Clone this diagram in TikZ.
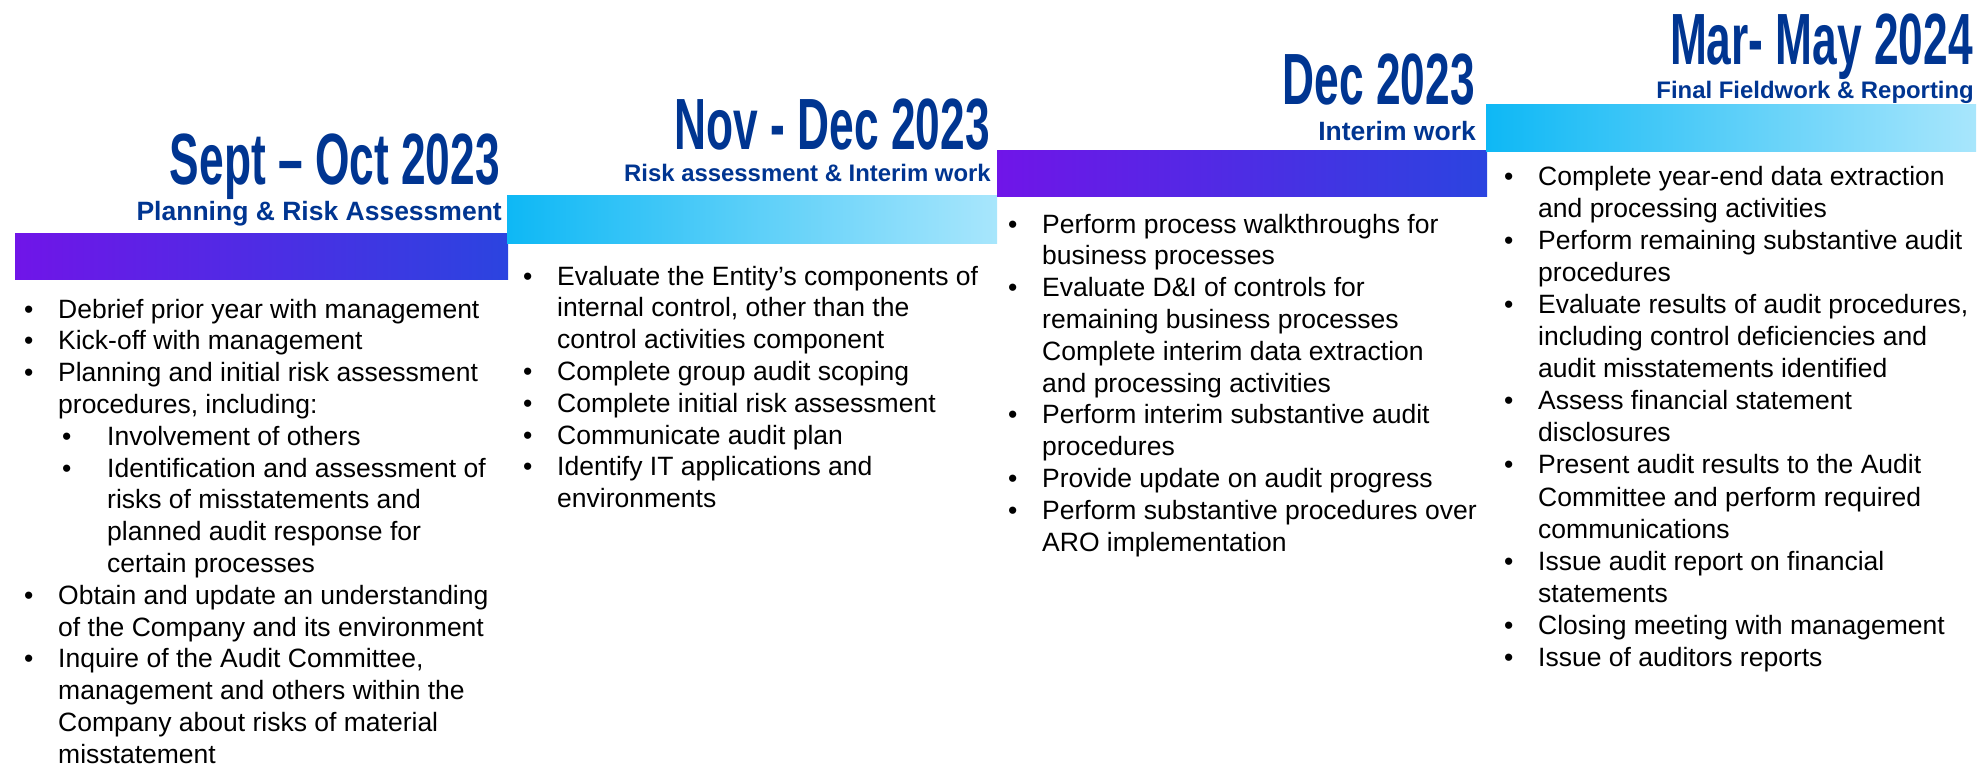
\documentclass[tikz,border=0pt]{standalone}
\usepackage{fontspec}
\setmainfont{Liberation Sans}
\newfontfamily\condfont{Liberation Sans}[FakeStretch=0.61]
\definecolor{tblue}{RGB}{0,53,145}
\definecolor{cpurple}{RGB}{112,21,232}
\definecolor{cblue}{RGB}{43,68,224}
\definecolor{ccyan}{RGB}{14,184,245}
\definecolor{clight}{RGB}{168,230,252}
\newcommand\bl{\makebox[34pt][l]{\textbullet}}
\newcommand\ind{\hspace*{34pt}}
\newcommand\sbl{\hspace*{38pt}\makebox[45pt][l]{\textbullet}}
\newcommand\sind{\hspace*{83pt}}
\begin{document}
\begin{tikzpicture}[x=1pt,y=-1pt,
  title/.style={anchor=base east, inner sep=0, text=tblue, font=\condfont\bfseries\fontsize{72.6}{80}\selectfont},
  subA/.style={anchor=base east, inner sep=0, text=tblue, font=\bfseries\fontsize{26.5}{30}\selectfont},
  subB/.style={anchor=base east, inner sep=0, text=tblue, font=\bfseries\fontsize{23.9}{28}\selectfont},
  body/.style={anchor=base west, inner sep=0, align=left, text=black, font=\fontsize{26.5}{31.8}\selectfont},
  bodyB/.style={body, font=\fontsize{26.5}{32.1}\selectfont},
  barA/.style={left color=cpurple, right color=cblue},
  barB/.style={left color=ccyan, right color=clight}]
\useasboundingbox (0,0) rectangle (1980,770);

% bars
\shade[barA] (15,233) rectangle (508,279);
\shade[barB] (507,196) rectangle (997,243);
\shade[barA] (997,151) rectangle (1487,197);
\shade[barB] (1486,105) rectangle (1976,152);

% titles
\node[title] (t1) at (500,185) {Sept – Oct 2023};
\node[subA]  (s1) at (502,221) {Planning \& Risk Assessment};
\node[title] (t2) at (990,150) {Nov - Dec 2023};
\node[subB]  (s2) at (991,182) {Risk assessment \& Interim work};
\node[title] (t3) at (1475,105) {Dec 2023};
\node[subA]  (s3) at (1476,141) {Interim work};
\node[title] (t4) at (1973,65) {Mar- May 2024};
\node[subB]  (s4) at (1974,99) {Final Fieldwork \& Reporting};

% column 1 (anchored at the baseline of its last line)
\node[body] (c1) at (24,763.2) {%
\bl Debrief prior year with management\\
\bl Kick-off with management\\
\bl Planning and initial risk assessment\\
\ind procedures, including:\\
\sbl Involvement of others\\
\sbl Identification and assessment of\\
\sind risks of misstatements and\\
\sind planned audit response for\\
\sind certain processes\\
\bl Obtain and update an understanding\\
\ind of the Company and its environment\\
\bl Inquire of the Audit Committee,\\
\ind management and others within the\\
\ind Company about risks of material\\
\ind misstatement};

% column 2
\node[body] (c2) at (523,507.6) {%
\bl Evaluate the Entity’s components of\\
\ind internal control, other than the\\
\ind control activities component\\
\bl Complete group audit scoping\\
\bl Complete initial risk assessment\\
\bl Communicate audit plan\\
\bl Identify IT applications and\\
\ind environments};

% column 3
\node[body] (c3) at (1008,551) {%
\bl Perform process walkthroughs for\\
\ind business processes\\
\bl Evaluate D\&I of controls for\\
\ind remaining business processes\\
\ind Complete interim data extraction\\
\ind and processing activities\\
\bl Perform interim substantive audit\\
\ind procedures\\
\bl Provide update on audit progress\\
\bl Perform substantive procedures over\\
\ind ARO implementation};

% column 4
\node[bodyB] (c4) at (1504,666.5) {%
\bl Complete year-end data extraction\\
\ind and processing activities\\
\bl Perform remaining substantive audit\\
\ind procedures\\
\bl Evaluate results of audit procedures,\\
\ind including control deficiencies and\\
\ind audit misstatements identified\\
\bl Assess financial statement\\
\ind disclosures\\
\bl Present audit results to the Audit\\
\ind Committee and perform required\\
\ind communications\\
\bl Issue audit report on financial\\
\ind statements\\
\bl Closing meeting with management\\
\bl Issue of auditors reports};
\end{tikzpicture}
\end{document}
